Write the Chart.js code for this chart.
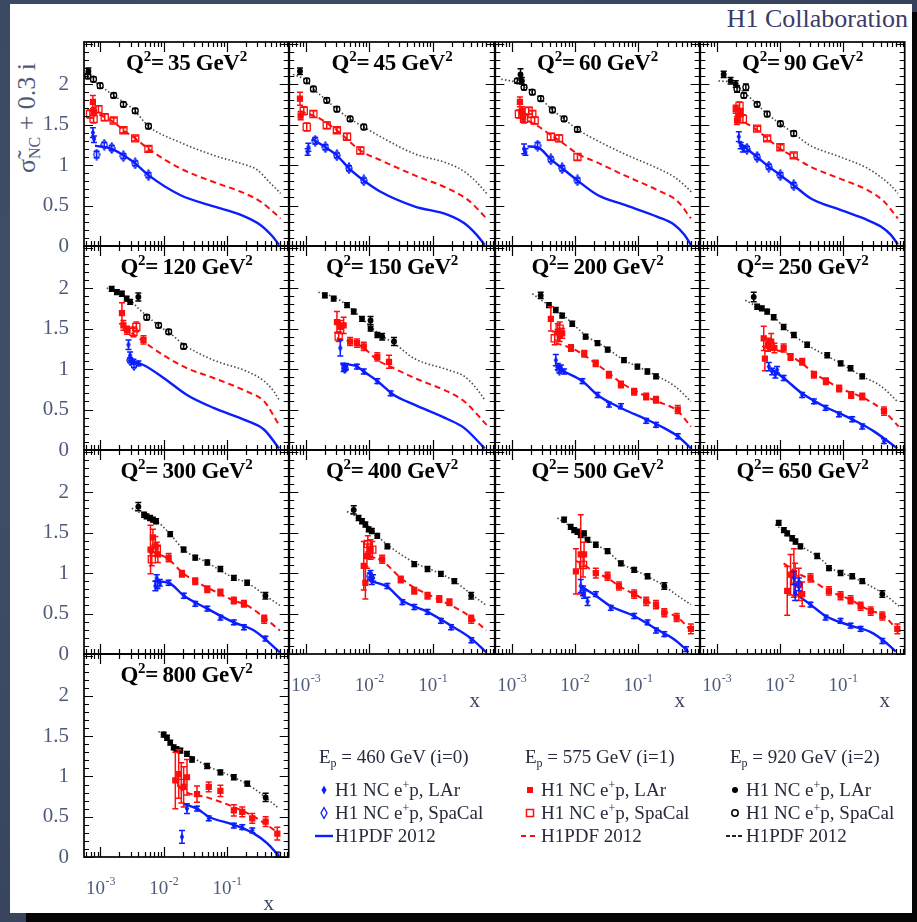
<!DOCTYPE html>
<html>
<head>
<meta charset="utf-8">
<script src="https://cdn.jsdelivr.net/npm/chart.js@4.4.1/dist/chart.umd.min.js"></script>
<style>
body{margin:0;width:917px;height:922px;overflow:hidden;position:relative;
  background:radial-gradient(circle at 30% 40%,#46546f 0%,#3a4761 60%,#333f58 100%);
  font-family:"Liberation Serif","DejaVu Serif",serif;}
#shadow{position:absolute;left:26px;top:12px;width:891px;height:910px;background:#050505;}
#sheet{position:absolute;left:10px;top:4px;width:902px;height:909px;background:#fff;}
canvas{position:absolute;}
.title{position:absolute;font-weight:bold;font-size:23px;line-height:23px;color:#000;white-space:nowrap;transform:translateX(-50%);letter-spacing:-0.3px;}
.title sup{font-size:15px;line-height:0;vertical-align:9px;}
#ytitle{position:absolute;left:27px;top:118px;transform:translate(-50%,-50%) rotate(-90deg);font-size:26px;color:#4f5a7a;white-space:nowrap;}
#ytitle sub{font-size:16px;line-height:0;vertical-align:-5px;}
#collab{position:absolute;right:9px;top:6px;font-size:26px;line-height:26px;color:#3a3b68;white-space:nowrap;}
.leg{position:absolute;font-size:19px;line-height:19px;color:#262b3c;white-space:nowrap;}
.leg sup{font-size:12px;line-height:0;vertical-align:7px;}
.leg sub{font-size:12px;line-height:0;vertical-align:-4px;}
.legmk{position:absolute;}
</style>
</head>
<body>
<div id="shadow"></div>
<div id="sheet"></div>
<div id="collab">H1 Collaboration</div>
<div id="ytitle">σ̃<sub>NC</sub> + 0.3 i</div>
<script>
// Q2 bins, one panel each
const q2List = [35, 45, 60, 90, 120, 150, 200, 250, 300, 400, 500, 650, 800];
const xTickValues = [0.001, 0.01, 0.1];
const xTickExp = ['-3', '-2', '-1'];
const yTickValues = [0, 0.5, 1, 1.5, 2];
const yTickLabels = ['0', '0.5', '1', '1.5', '2'];

// H1PDF 2012 curves [x, sigma + 0.3 i]
const pdf460 = [
  [[8.2e-4,1.24],[1.51e-3,1.20],[2.31e-3,1.12],[3.55e-3,1.02],[5.75e-3,0.875],[0.0182,0.63],[0.0617,0.49],[0.166,0.385],[0.339,0.26],[0.525,0.12],[0.668,0.015]],
  [[1.245e-3,1.325],[2.04e-3,1.22],[3.09e-3,1.12],[4.79e-3,0.96],[8.2e-3,0.81],[0.0151,0.67],[0.0513,0.49],[0.174,0.385],[0.316,0.28],[0.49,0.14],[0.66,0.015]],
  [[1.78e-3,1.23],[2.57e-3,1.22],[4.17e-3,1.07],[6.3e-3,0.96],[0.011,0.81],[0.0229,0.63],[0.060,0.51],[0.204,0.36],[0.38,0.26],[0.543,0.14],[0.69,0.015]],
  [[2.24e-3,1.28],[3.02e-3,1.20],[4.37e-3,1.10],[6.68e-3,0.98],[0.0102,0.875],[0.0166,0.75],[0.0305,0.59],[0.091,0.445],[0.245,0.32],[0.398,0.24],[0.569,0.14],[0.741,0.02]],
  [[2.75e-3,1.11],[4.79e-3,1.05],[0.01,0.89],[0.0234,0.68],[0.0617,0.52],[0.209,0.36],[0.389,0.25],[0.668,0.02]],
  [[3.5e-3,1.07],[6.46e-3,1.03],[8.2e-3,0.97],[0.0135,0.85],[0.0245,0.68],[0.0513,0.56],[0.174,0.38],[0.316,0.27],[0.66,0.02]],
  [[5.0e-3,1.03],[6.76e-3,0.97],[0.0132,0.85],[0.0229,0.68],[0.0372,0.58],[0.060,0.50],[0.135,0.38],[0.261,0.27],[0.427,0.17],[0.69,0.02]],
  [[7.08e-3,1.01],[0.0115,0.89],[0.0224,0.70],[0.050,0.54],[0.140,0.38],[0.31,0.23],[0.724,0.02]],
  [[6.9e-3,0.90],[0.012,0.88],[0.0209,0.72],[0.049,0.56],[0.129,0.39],[0.269,0.29],[0.69,0.02]],
  [[0.0105,0.90],[0.0193,0.83],[0.0333,0.66],[0.083,0.52],[0.195,0.35],[0.407,0.19],[0.70,0.02]],
  [[0.0124,0.84],[0.0215,0.72],[0.0372,0.59],[0.087,0.47],[0.193,0.31],[0.377,0.18],[0.61,0.04]],
  [[0.0167,0.76],[0.0306,0.61],[0.053,0.47],[0.132,0.35],[0.275,0.27],[0.447,0.16],[0.685,0.03]],
  [[0.0207,0.66],[0.0337,0.60],[0.0517,0.50],[0.129,0.40],[0.268,0.29],[0.436,0.17],[0.668,0.01]]
];
const pdf575 = [
  [[6.84e-4,1.67],[9.9e-4,1.62],[1.62e-3,1.53],[2.31e-3,1.43],[3.55e-3,1.33],[5.75e-3,1.20],[0.0182,0.96],[0.0617,0.79],[0.166,0.67],[0.339,0.55],[0.708,0.34]],
  [[8.1e-4,1.67],[1.70e-3,1.57],[3.09e-3,1.43],[7.24e-3,1.18],[0.0151,1.06],[0.0513,0.875],[0.174,0.71],[0.359,0.57],[0.708,0.34]],
  [[1.30e-3,1.59],[2.26e-3,1.51],[4.17e-3,1.37],[6.76e-3,1.26],[0.011,1.14],[0.0229,1.03],[0.060,0.875],[0.204,0.69],[0.427,0.55],[0.69,0.34]],
  [[2.0e-3,1.57],[3.02e-3,1.51],[4.37e-3,1.43],[6.3e-3,1.33],[0.0102,1.20],[0.0166,1.10],[0.0305,0.98],[0.091,0.83],[0.245,0.69],[0.447,0.55],[0.741,0.34]],
  [[2.31e-3,1.52],[4.79e-3,1.34],[0.01,1.17],[0.0234,1.01],[0.0617,0.89],[0.209,0.72],[0.389,0.60],[0.668,0.31]],
  [[3.09e-3,1.38],[5.0e-3,1.34],[8.2e-3,1.26],[0.0135,1.11],[0.0245,1.01],[0.0513,0.89],[0.174,0.72],[0.316,0.60],[0.708,0.31]],
  [[5.0e-3,1.32],[8.7e-3,1.26],[0.0141,1.17],[0.0214,1.07],[0.0347,0.95],[0.0537,0.83],[0.087,0.74],[0.135,0.66],[0.204,0.60],[0.427,0.48],[0.69,0.29]],
  [[6.3e-3,1.24],[0.0115,1.21],[0.0224,1.07],[0.0347,0.95],[0.0562,0.85],[0.091,0.76],[0.204,0.65],[0.447,0.48],[0.76,0.29]],
  [[6.5e-3,1.27],[0.012,1.17],[0.0195,1.01],[0.0316,0.90],[0.049,0.82],[0.079,0.74],[0.129,0.66],[0.209,0.60],[0.389,0.45],[0.69,0.29]],
  [[9.86e-3,1.21],[0.016,1.15],[0.0314,0.94],[0.0513,0.82],[0.083,0.74],[0.135,0.66],[0.219,0.58],[0.407,0.45],[0.70,0.29]],
  [[0.0104,1.15],[0.014,1.10],[0.0215,1.00],[0.033,0.94],[0.05,0.84],[0.087,0.74],[0.142,0.65],[0.261,0.53],[0.426,0.45],[0.735,0.27]],
  [[0.0115,1.12],[0.0212,0.98],[0.0306,0.92],[0.0598,0.78],[0.132,0.67],[0.245,0.55],[0.447,0.47],[0.773,0.27]],
  [[0.0173,0.87],[0.0234,0.80],[0.0487,0.74],[0.129,0.62],[0.268,0.50],[0.628,0.31]]
];
const pdf920 = [
  [[5.5e-4,2.12],[9.9e-4,1.98],[1.62e-3,1.86],[3.31e-3,1.69],[5.75e-3,1.48],[0.0182,1.28],[0.0617,1.12],[0.166,1.02],[0.302,0.94],[0.468,0.79],[0.708,0.65]],
  [[6.3e-4,2.12],[1.035e-3,2.04],[1.32e-3,1.94],[2.14e-3,1.80],[3.09e-3,1.69],[5.0e-3,1.57],[8.2e-3,1.47],[0.0151,1.35],[0.0513,1.14],[0.174,1.02],[0.316,0.92],[0.49,0.79],[0.708,0.65]],
  [[6.84e-4,2.06],[1.23e-3,2.02],[1.57e-3,1.98],[2.12e-3,1.90],[2.88e-3,1.82],[4.42e-3,1.68],[6.76e-3,1.57],[0.011,1.44],[0.0229,1.30],[0.060,1.14],[0.204,0.96],[0.38,0.85],[0.543,0.75],[0.741,0.65]],
  [[1.07e-3,2.04],[1.66e-3,2.02],[2.69e-3,1.90],[4.37e-3,1.75],[6.3e-3,1.63],[0.0102,1.51],[0.0166,1.39],[0.0305,1.24],[0.091,1.10],[0.245,0.96],[0.398,0.85],[0.569,0.75],[0.741,0.65]],
  [[1.26e-3,2.00],[1.62e-3,1.97],[2.63e-3,1.89],[3.98e-3,1.75],[5.37e-3,1.66],[8.9e-3,1.52],[0.0127,1.44],[0.0209,1.30],[0.0617,1.11],[0.209,0.97],[0.389,0.85],[0.556,0.72],[0.668,0.62]],
  [[1.58e-3,1.95],[2.75e-3,1.89],[4.47e-3,1.79],[8.2e-3,1.60],[0.0151,1.42],[0.0245,1.32],[0.0513,1.13],[0.174,0.99],[0.316,0.91],[0.49,0.76],[0.66,0.62]],
  [[2.12e-3,1.93],[4.17e-3,1.77],[6.03e-3,1.69],[9.8e-3,1.54],[0.0158,1.40],[0.0292,1.28],[0.060,1.11],[0.112,1.01],[0.204,0.91],[0.38,0.79],[0.69,0.60]],
  [[2.84e-3,1.85],[4.37e-3,1.77],[8.2e-3,1.64],[0.0115,1.52],[0.0271,1.30],[0.092,1.07],[0.202,0.91],[0.398,0.79],[0.727,0.60]],
  [[3.14e-3,1.80],[5.4e-3,1.70],[7.8e-3,1.64],[0.0127,1.48],[0.0207,1.29],[0.0487,1.13],[0.129,0.94],[0.21,0.88],[0.41,0.72],[0.69,0.60]],
  [[4.47e-3,1.76],[8.2e-3,1.64],[0.0134,1.46],[0.0193,1.35],[0.0513,1.13],[0.135,0.99],[0.22,0.90],[0.405,0.74],[0.70,0.60]],
  [[5.3e-3,1.68],[8.6e-3,1.57],[0.0159,1.41],[0.0215,1.35],[0.033,1.27],[0.0537,1.12],[0.087,1.04],[0.142,0.96],[0.261,0.84],[0.426,0.72],[0.69,0.61]],
  [[8.5e-3,1.60],[0.0157,1.43],[0.0212,1.34],[0.039,1.21],[0.0718,1.04],[0.132,0.96],[0.243,0.86],[0.447,0.74],[0.773,0.59]],
  [[8.3e-3,1.56],[0.0144,1.38],[0.0234,1.28],[0.0487,1.13],[0.129,0.99],[0.268,0.85],[0.628,0.62]]
];

// measurements [x, sigma + 0.3 i, error]
const lar460 = [
  [[7.6e-4,1.40,0.06],[7.9e-4,1.32,0.04]],
  [[1.10e-3,1.22,0.05],[1.07e-3,1.16,0.04]],
  [[1.57e-3,1.20,0.06],[1.65e-3,1.16,0.04]],
  [[2.24e-3,1.35,0.06],[2.4e-3,1.24,0.04],[2.6e-3,1.20,0.04]],
  [[2.78e-3,1.30,0.06],[2.95e-3,1.17,0.04],[3.33e-3,1.09,0.03],[4.0e-3,1.07,0.03]],
  [[3.5e-3,1.26,0.1],[3.95e-3,1.01,0.04],[4.3e-3,1.03,0.04],[6.4e-3,1.03,0.03],[8.2e-3,0.97,0.03],[0.0134,0.85,0.03],[0.0218,0.70,0.03]],
  [[5.0e-3,1.11,0.07],[5.37e-3,1.03,0.04],[6.03e-3,1.01,0.04],[6.76e-3,0.97,0.03],[0.0132,0.85,0.03],[0.0229,0.68,0.03],[0.0347,0.56,0.03],[0.0537,0.54,0.03],[0.135,0.36,0.03],[0.193,0.31,0.03],[0.427,0.17,0.03]],
  [[6.68e-3,1.03,0.05],[7.55e-3,0.97,0.04],[8.5e-3,0.93,0.04],[9.05e-3,0.99,0.04],[0.0115,0.89,0.03],[0.0226,0.68,0.03],[0.0347,0.60,0.03],[0.053,0.52,0.03],[0.0863,0.44,0.03],[0.140,0.38,0.03],[0.202,0.29,0.03],[0.447,0.11,0.03]],
  [[7.76e-3,0.94,0.04],[7.4e-3,0.84,0.06],[8.7e-3,0.88,0.04],[0.012,0.88,0.03],[0.0209,0.72,0.03],[0.0316,0.62,0.03],[0.049,0.56,0.03],[0.079,0.45,0.03],[0.129,0.39,0.03],[0.186,0.33,0.03],[0.407,0.19,0.03]],
  [[0.0105,0.99,0.04],[0.0115,0.94,0.04],[0.011,0.90,0.04],[0.0193,0.84,0.03],[0.0333,0.64,0.03],[0.0513,0.58,0.03],[0.083,0.52,0.03],[0.135,0.41,0.03],[0.195,0.33,0.03],[0.407,0.17,0.03]],
  [[0.0124,0.84,0.08],[0.014,0.74,0.05],[0.0159,0.65,0.05],[0.0215,0.74,0.03],[0.0372,0.57,0.03],[0.087,0.47,0.03],[0.142,0.39,0.03],[0.193,0.29,0.03],[0.261,0.245,0.03],[0.577,0.06,0.03]],
  [[0.0167,0.94,0.08],[0.0175,0.76,0.1],[0.0306,0.61,0.03],[0.053,0.45,0.03],[0.0916,0.41,0.03],[0.132,0.35,0.03],[0.19,0.31,0.03],[0.42,0.16,0.03]],
  [[0.0195,0.25,0.08],[0.0234,0.60,0.06],[0.0337,0.60,0.03],[0.0517,0.48,0.03],[0.129,0.39,0.03],[0.175,0.37,0.03],[0.252,0.33,0.03],[0.628,0.03,0.03]]
];
const spa460 = [
  [[8.7e-4,1.13,0.04],[1.15e-3,1.25,0.03],[1.51e-3,1.21,0.03],[2.31e-3,1.11,0.03],[3.55e-3,1.02,0.03],[5.75e-3,0.875,0.03]],
  [[1.41e-3,1.30,0.04],[2.04e-3,1.22,0.03],[3.09e-3,1.12,0.03],[4.79e-3,0.96,0.03],[8.2e-3,0.81,0.03]],
  [[2.57e-3,1.24,0.04],[4.17e-3,1.07,0.03],[6.3e-3,0.96,0.03],[0.011,0.81,0.03]],
  [[3.02e-3,1.20,0.03],[4.37e-3,1.10,0.03],[6.68e-3,0.98,0.03],[0.0102,0.875,0.03],[0.0166,0.75,0.03]],
  [[2.95e-3,1.11,0.03],[3.4e-3,1.05,0.03]],
  [[4.1e-3,1.01,0.03]],
  [[5.7e-3,0.99,0.04]],
  [],
  [[8.0e-3,0.86,0.05]],
  [[0.0102,0.96,0.04]],
  [[0.0135,0.78,0.06]],
  [[0.02,0.86,0.08]],
  []
];
const lar575 = [
  [[7.6e-4,1.78,0.08],[7.9e-4,1.66,0.05]],
  [[8.1e-4,1.82,0.08],[8.3e-4,1.61,0.05]],
  [[1.35e-3,1.78,0.06],[1.45e-3,1.67,0.05],[1.52e-3,1.59,0.05]],
  [[2.0e-3,1.69,0.05],[2.2e-3,1.61,0.05],[2.4e-3,1.65,0.05],[2.1e-3,1.55,0.05]],
  [[2.19e-3,1.69,0.13],[2.31e-3,1.54,0.06],[2.63e-3,1.48,0.05],[4.8e-3,1.36,0.05]],
  [[3.1e-3,1.58,0.13],[3.5e-3,1.52,0.08],[3.95e-3,1.54,0.1],[5.0e-3,1.34,0.05],[6.4e-3,1.32,0.05],[8.2e-3,1.28,0.05],[0.0134,1.15,0.05],[0.0205,1.09,0.08]],
  [[4.17e-3,1.62,0.15],[5.37e-3,1.46,0.10],[5.75e-3,1.42,0.08],[6.3e-3,1.44,0.06],[8.7e-3,1.26,0.04],[0.0141,1.19,0.04],[0.0214,1.07,0.04],[0.0347,0.93,0.04],[0.0537,0.81,0.04],[0.087,0.72,0.04],[0.135,0.66,0.04],[0.193,0.62,0.04],[0.427,0.50,0.05]],
  [[5.56e-3,1.38,0.15],[5.8e-3,1.13,0.15],[6.5e-3,1.30,0.08],[7.3e-3,1.34,0.10],[8.2e-3,1.26,0.06],[0.0115,1.26,0.05],[0.0148,1.15,0.04],[0.0226,1.09,0.04],[0.0347,0.93,0.04],[0.0537,0.85,0.04],[0.087,0.76,0.04],[0.135,0.68,0.04],[0.202,0.66,0.04],[0.447,0.48,0.05]],
  [[6.2e-3,1.29,0.3],[6.76e-3,1.44,0.1],[7.4e-3,1.33,0.12],[8.1e-3,1.23,0.1],[0.012,1.19,0.05],[0.0195,0.99,0.04],[0.0316,0.90,0.04],[0.049,0.80,0.04],[0.079,0.76,0.04],[0.129,0.66,0.04],[0.186,0.62,0.04],[0.389,0.43,0.05]],
  [[8.2e-3,1.09,0.3],[8.7e-3,0.88,0.2],[9.2e-3,1.21,0.15],[0.0105,1.29,0.12],[0.016,1.17,0.05],[0.0314,0.92,0.04],[0.0513,0.78,0.04],[0.083,0.72,0.04],[0.127,0.68,0.04],[0.184,0.64,0.04],[0.405,0.43,0.05]],
  [[0.0104,1.02,0.28],[0.0124,1.23,0.49],[0.014,1.23,0.15],[0.0215,1.00,0.06],[0.033,0.96,0.05],[0.05,0.84,0.05],[0.087,0.74,0.05],[0.135,0.65,0.05],[0.193,0.61,0.05],[0.261,0.51,0.05],[0.41,0.45,0.05],[0.69,0.31,0.06]],
  [[0.0131,0.78,0.3],[0.0148,0.98,0.25],[0.0167,1.00,0.3],[0.02,0.86,0.2],[0.0226,0.74,0.15],[0.0306,0.94,0.05],[0.0598,0.78,0.05],[0.0916,0.72,0.05],[0.132,0.67,0.05],[0.19,0.59,0.05],[0.275,0.53,0.05],[0.42,0.47,0.05],[0.727,0.31,0.06]],
  [[0.0153,0.95,0.35],[0.0173,1.03,0.3],[0.0207,0.87,0.25],[0.0234,0.99,0.22],[0.0337,0.78,0.1],[0.0517,0.87,0.06],[0.079,0.82,0.07],[0.129,0.58,0.07],[0.175,0.56,0.06],[0.252,0.48,0.06],[0.41,0.44,0.06],[0.628,0.29,0.08]]
];
const spa575 = [
  [[6.84e-4,1.63,0.05],[7.8e-4,1.57,0.05],[9.3e-4,1.69,0.04],[1.17e-3,1.59,0.04],[1.62e-3,1.55,0.03],[2.31e-3,1.43,0.03],[3.55e-3,1.33,0.03],[5.75e-3,1.20,0.03]],
  [[9.3e-4,1.67,0.05],[1.035e-3,1.47,0.05],[1.32e-3,1.63,0.04],[2.14e-3,1.49,0.04],[3.09e-3,1.43,0.03],[4.47e-3,1.35,0.04],[7.24e-3,1.18,0.04]],
  [[1.30e-3,1.63,0.05],[1.57e-3,1.57,0.05],[1.86e-3,1.67,0.04],[2.12e-3,1.63,0.04],[2.31e-3,1.55,0.04],[4.17e-3,1.35,0.04],[5.62e-3,1.33,0.04],[0.011,1.10,0.04]],
  [[2.3e-3,1.73,0.05],[2.6e-3,1.57,0.05],[4.37e-3,1.45,0.03],[6.3e-3,1.33,0.03],[0.0102,1.22,0.03],[0.0166,1.12,0.03]],
  [[3.33e-3,1.46,0.06],[3.7e-3,1.52,0.06]],
  [[3.3e-3,1.40,0.06]],
  [[4.8e-3,1.38,0.08],[5.75e-3,1.50,0.08]],
  [[7.0e-3,1.30,0.06]],
  [[6.5e-3,1.17,0.08],[7.8e-3,1.30,0.08]],
  [[9.5e-3,1.36,0.1],[0.0112,1.29,0.1]],
  [[0.0135,1.10,0.15]],
  [[0.0175,0.92,0.2]],
  [[0.019,0.92,0.25]]
];
const lar920 = [
  [[6.46e-4,2.16,0.04]],
  [[8.1e-4,2.16,0.04]],
  [[1.38e-3,2.12,0.07],[1.45e-3,2.04,0.04]],
  [[1.29e-3,2.12,0.04],[1.66e-3,2.04,0.04],[2.0e-3,2.00,0.04]],
  [[1.51e-3,1.99,0.03],[1.82e-3,1.95,0.03],[2.19e-3,1.93,0.03],[2.6e-3,1.87,0.03],[2.95e-3,1.83,0.03],[3.98e-3,1.89,0.05]],
  [[2.0e-3,1.91,0.03],[2.75e-3,1.87,0.03],[4.47e-3,1.79,0.03],[5.7e-3,1.71,0.03],[7.7e-3,1.62,0.03],[0.0105,1.50,0.03],[0.0134,1.42,0.03],[0.0105,1.60,0.05],[0.016,1.40,0.04],[0.0246,1.34,0.05]],
  [[2.88e-3,1.91,0.04],[3.89e-3,1.79,0.03],[5.0e-3,1.73,0.03],[6.3e-3,1.66,0.03],[9.1e-3,1.56,0.03],[0.0148,1.40,0.03],[0.0229,1.32,0.03],[0.0331,1.24,0.03],[0.060,1.11,0.03],[0.098,1.03,0.03],[0.141,0.97,0.03],[0.193,0.91,0.03]],
  [[3.86e-3,1.89,0.06],[4.37e-3,1.77,0.03],[5.2e-3,1.75,0.03],[6.3e-3,1.71,0.03],[8.0e-3,1.64,0.03],[0.0115,1.52,0.03],[0.0167,1.42,0.03],[0.0271,1.30,0.03],[0.0564,1.17,0.03],[0.092,1.07,0.03],[0.132,1.01,0.03],[0.202,0.91,0.03]],
  [[3.98e-3,1.82,0.05],[4.9e-3,1.72,0.03],[5.37e-3,1.70,0.03],[6.1e-3,1.68,0.03],[6.76e-3,1.66,0.03],[7.6e-3,1.64,0.03],[0.0127,1.48,0.03],[0.0207,1.29,0.03],[0.0316,1.19,0.03],[0.049,1.13,0.03],[0.079,1.05,0.03],[0.129,0.94,0.03],[0.209,0.88,0.03],[0.407,0.72,0.04]],
  [[5.7e-3,1.78,0.05],[6.8e-3,1.68,0.03],[7.7e-3,1.64,0.03],[8.7e-3,1.60,0.03],[9.8e-3,1.54,0.03],[0.011,1.52,0.03],[0.0134,1.46,0.03],[0.0193,1.33,0.03],[0.0513,1.11,0.03],[0.083,1.05,0.03],[0.135,0.99,0.03],[0.22,0.90,0.03],[0.405,0.72,0.04]],
  [[6.76e-3,1.66,0.03],[8.6e-3,1.57,0.03],[9.75e-3,1.53,0.03],[0.011,1.51,0.03],[0.0124,1.47,0.03],[0.014,1.49,0.03],[0.0159,1.41,0.03],[0.0215,1.35,0.03],[0.033,1.27,0.03],[0.0537,1.12,0.03],[0.087,1.04,0.03],[0.142,0.96,0.03],[0.261,0.84,0.04]],
  [[9.6e-3,1.62,0.03],[0.0116,1.53,0.03],[0.0131,1.49,0.03],[0.0157,1.43,0.03],[0.0177,1.39,0.03],[0.0212,1.33,0.03],[0.039,1.21,0.03],[0.06,1.06,0.03],[0.0916,1.00,0.03],[0.14,0.96,0.03],[0.202,0.90,0.03],[0.42,0.74,0.04]],
  [[0.01,1.52,0.03],[0.0113,1.48,0.03],[0.0127,1.42,0.03],[0.0144,1.36,0.03],[0.016,1.34,0.03],[0.0184,1.32,0.03],[0.0234,1.28,0.03],[0.0281,1.21,0.03],[0.0487,1.13,0.03],[0.079,1.05,0.03],[0.129,0.99,0.03],[0.21,0.91,0.03],[0.41,0.74,0.05]]
];
const spa920 = [
  [[6.3e-4,2.10,0.03],[7.76e-4,2.06,0.03],[9.9e-4,1.98,0.03],[1.62e-3,1.86,0.03],[2.31e-3,1.75,0.03],[3.55e-3,1.67,0.03],[5.75e-3,1.48,0.03]],
  [[1.035e-3,2.04,0.03],[1.32e-3,1.94,0.03],[2.14e-3,1.80,0.03],[3.09e-3,1.69,0.03],[5.0e-3,1.57,0.03],[8.2e-3,1.47,0.03]],
  [[1.23e-3,2.04,0.03],[1.57e-3,1.96,0.03],[2.12e-3,1.90,0.03],[2.88e-3,1.82,0.03],[4.42e-3,1.68,0.03],[6.76e-3,1.57,0.03],[0.011,1.44,0.03]],
  [[2.1e-3,1.94,0.04],[2.69e-3,1.86,0.03],[2.9e-3,1.96,0.04],[4.37e-3,1.75,0.03],[6.3e-3,1.63,0.03],[0.0102,1.51,0.03],[0.0166,1.39,0.03]],
  [[5.4e-3,1.64,0.03],[8.3e-3,1.54,0.03],[0.012,1.46,0.03],[0.0207,1.28,0.03]],
  [], [], [], [], [], [], [], []
];

const BLUE = '#0a1eff', RED = '#ff0d0d';
const colLeft = [84, 289, 495, 700];
const colWidth = [205, 206, 205, 205];
const rowTop = [42, 246, 450, 654];
const rowHeight = [204, 204, 204, 203];
const SERIF = "'Liberation Serif', 'DejaVu Serif', serif";

function diamond(w, h, color, open) {
  const c = document.createElement('canvas');
  c.width = w; c.height = h;
  const g = c.getContext('2d');
  g.beginPath();
  g.moveTo(w / 2, 0.8); g.lineTo(w - 0.8, h / 2); g.lineTo(w / 2, h - 0.8); g.lineTo(0.8, h / 2);
  g.closePath();
  if (open) { g.strokeStyle = color; g.lineWidth = 1.3; g.stroke(); }
  else { g.fillStyle = color; g.fill(); }
  return c;
}

const pdfStyle = [
  {color: BLUE, width: 2.4, dash: []},
  {color: RED, width: 2, dash: [6, 4]},
  {color: '#4a4a4a', width: 1.6, dash: [1.5, 2.2]}
];
const larStyle = [
  {style: diamond(6, 9, BLUE, false), r: 4, fill: BLUE, line: BLUE},
  {style: 'rect', r: 3.5, fill: RED, line: RED},
  {style: 'circle', r: 2.3, fill: '#000', line: '#000'}
];
const spaStyle = [
  {style: diamond(8, 12, BLUE, true), r: 5, fill: 'rgba(0,0,0,0)', line: BLUE},
  {style: 'rect', r: 5, fill: 'rgba(0,0,0,0)', line: RED},
  {style: 'circle', r: 3, fill: 'rgba(0,0,0,0)', line: '#000'}
];

function larSets(i) { return [lar460, lar575, lar920][i]; }
function spaSets(i) { return [spa460, spa575, spa920][i]; }
function pdfSets(i) { return [pdf460, pdf575, pdf920][i]; }

const errorBars = {
  id: 'errorBars',
  beforeDatasetDraw(chart, args) {
    const ds = chart.data.datasets[args.index];
    if (!ds.errs) return;
    const ctx = chart.ctx, ys = chart.scales.y;
    ctx.save();
    ctx.strokeStyle = ds.pointBorderColor;
    ctx.lineWidth = 1.5;
    args.meta.data.forEach((pt, i) => {
      const e = ds.errs[i], v = ds.data[i].y;
      const y1 = ys.getPixelForValue(v + e), y2 = ys.getPixelForValue(v - e);
      ctx.beginPath();
      ctx.moveTo(pt.x, y1); ctx.lineTo(pt.x, y2);
      ctx.moveTo(pt.x - 3, y1); ctx.lineTo(pt.x + 3, y1);
      ctx.moveTo(pt.x - 3, y2); ctx.lineTo(pt.x + 3, y2);
      ctx.stroke();
    });
    ctx.restore();
  }
};

const frame = {
  id: 'frame',
  afterDraw(chart, args, opts) {
    const {ctx, chartArea: a} = chart;
    const xs = chart.scales.x, ys = chart.scales.y;
    ctx.save();
    ctx.strokeStyle = '#000';
    ctx.lineWidth = 1.2;
    ctx.beginPath();
    for (let k = 0; k <= 25; k++) {
      const py = Math.round(ys.getPixelForValue(k / 10)) + 0.5;
      const len = k % 5 === 0 ? 9 : 5;
      ctx.moveTo(a.left, py); ctx.lineTo(a.left + len, py);
      ctx.moveTo(a.right, py); ctx.lineTo(a.right - len, py);
    }
    for (let d = -4; d <= 0; d++) {
      for (let m = 1; m <= 9; m++) {
        const v = m * Math.pow(10, d);
        if (v < xs.min || v > xs.max) continue;
        const px = Math.round(xs.getPixelForValue(v)) + 0.5;
        const len = m === 1 ? 10 : 5;
        ctx.moveTo(px, a.bottom); ctx.lineTo(px, a.bottom - len);
        ctx.moveTo(px, a.top); ctx.lineTo(px, a.top + len);
      }
    }
    ctx.stroke();
    ctx.lineWidth = 1.7;
    ctx.strokeRect(a.left, a.top, a.right - a.left, a.bottom - a.top);
    if (opts.xLabels) {
      ctx.fillStyle = '#4f5a7a';
      ctx.textBaseline = 'alphabetic';
      xTickValues.forEach((v, i) => {
        const px = xs.getPixelForValue(v);
        ctx.font = '19px ' + SERIF;
        const w1 = ctx.measureText('10').width;
        ctx.font = '12px ' + SERIF;
        const w2 = ctx.measureText(xTickExp[i]).width;
        const x0 = px - (w1 + w2) / 2;
        ctx.font = '19px ' + SERIF;
        ctx.fillText('10', x0, a.bottom + 37);
        ctx.font = '12px ' + SERIF;
        ctx.fillText(xTickExp[i], x0 + w1 + 0.5, a.bottom + 28);
      });
      ctx.font = '21px ' + SERIF;
      ctx.fillStyle = '#3d4560';
      ctx.textAlign = 'center';
      ctx.fillText('x', a.right - 20, a.bottom + 53);
    }
    ctx.restore();
  }
};

q2List.forEach((q2, p) => {
  const row = Math.floor(p / 4), col = p % 4;
  const L = colLeft[col], W = colWidth[col], T = rowTop[row], H = rowHeight[row];
  const hasY = col === 0, hasX = p >= 9;
  const padL = hasY ? 70 : 6, padR = 6, padT = 14, padB = hasX ? 64 : 14;
  const cv = document.createElement('canvas');
  cv.width = padL + W + padR; cv.height = padT + H + padB;
  cv.style.left = (L - padL) + 'px'; cv.style.top = (T - padT) + 'px';
  cv.style.width = cv.width + 'px'; cv.style.height = cv.height + 'px';
  document.body.appendChild(cv);

  const datasets = [];
  [0, 1, 2].forEach(i => {
    const pts = [larSets(i)[p], spaSets(i)[p]];
    [larStyle[i], spaStyle[i]].forEach((st, k) => {
      datasets.push({
        data: pts[k].map(d => ({x: d[0], y: d[1]})),
        errs: pts[k].map(d => d[2]),
        showLine: false,
        pointStyle: st.style, pointRadius: st.r,
        pointBackgroundColor: st.fill, pointBorderColor: st.line, pointBorderWidth: 1.3,
        order: 1
      });
    });
    datasets.push({
      data: pdfSets(i)[p].map(d => ({x: d[0], y: d[1]})),
      borderColor: pdfStyle[i].color, borderWidth: pdfStyle[i].width, borderDash: pdfStyle[i].dash,
      pointRadius: 0, fill: false, cubicInterpolationMode: 'monotone', order: 3
    });
  });

  new Chart(cv, {
    type: 'line',
    data: {datasets},
    options: {
      responsive: false, animation: false, events: [],
      layout: {padding: {top: padT, right: padR, left: 0, bottom: 0}},
      plugins: {legend: {display: false}, tooltip: {enabled: false}, frame: {xLabels: hasX}},
      scales: {
        x: {type: 'logarithmic', min: 5.5e-4, max: 0.95,
            grid: {display: false}, border: {display: false}, ticks: {display: false},
            afterFit: s => { s.height = padB; s.paddingLeft = 0; s.paddingRight = 0; }},
        y: {type: 'linear', min: 0, max: 2.52,
            grid: {display: false}, border: {display: false},
            afterBuildTicks: s => { s.ticks = yTickValues.map(v => ({value: v})); },
            ticks: {display: hasY, padding: 7, color: '#4f5a7a',
                    font: {family: SERIF, size: 21}, callback: (v, i) => yTickLabels[i]},
            afterFit: s => { s.width = padL; s.paddingTop = 0; s.paddingBottom = 0; }}
      }
    },
    plugins: [errorBars, frame]
  });

  const t = document.createElement('div');
  t.className = 'title';
  t.innerHTML = 'Q<sup>2</sup>=&thinsp;' + q2 + ' GeV<sup>2</sup>';
  t.style.left = (L + W / 2) + 'px';
  t.style.top = (T + 9) + 'px';
  document.body.appendChild(t);
});

// legend below the grid
const legendHeads = ['E<sub>p</sub> = 460 GeV (i=0)', 'E<sub>p</sub> = 575 GeV (i=1)', 'E<sub>p</sub> = 920 GeV (i=2)'];
const legendRows = ['H1 NC e<sup>+</sup>p, LAr', 'H1 NC e<sup>+</sup>p, SpaCal', 'H1PDF 2012'];
const legendMarks = [
  ['<polygon points="5,2.5 7.5,7 5,11.5 2.5,7" fill="' + BLUE + '"/>',
   '<polygon points="5,1.5 8,7 5,12.5 2,7" fill="none" stroke="' + BLUE + '" stroke-width="1.3"/>',
   '<line x1="-4" y1="7" x2="14" y2="7" stroke="' + BLUE + '" stroke-width="2.4"/>'],
  ['<rect x="2" y="4" width="6" height="6" fill="' + RED + '"/>',
   '<rect x="1.5" y="3.5" width="7" height="7" fill="none" stroke="' + RED + '" stroke-width="1.5"/>',
   '<line x1="-4" y1="7" x2="14" y2="7" stroke="' + RED + '" stroke-width="2" stroke-dasharray="5,4"/>'],
  ['<circle cx="5" cy="7" r="3" fill="#000"/>',
   '<circle cx="5" cy="7" r="3.2" fill="none" stroke="#000" stroke-width="1.5"/>',
   '<line x1="-4" y1="7" x2="14" y2="7" stroke="#222" stroke-width="1.8" stroke-dasharray="4,2"/>']
];
const legendRowY = [790, 813, 836];
[1, 2, 3].forEach((c, j) => {
  const L = colLeft[c];
  const h = document.createElement('div');
  h.className = 'leg';
  h.innerHTML = legendHeads[j];
  h.style.left = (L + 30) + 'px'; h.style.top = (757 - 10) + 'px';
  document.body.appendChild(h);
  legendRows.forEach((txt, r) => {
    const m = document.createElement('div');
    m.className = 'legmk';
    m.innerHTML = '<svg width="22" height="14" viewBox="-6 0 22 14" style="overflow:visible">' + legendMarks[j][r] + '</svg>';
    m.style.left = (L + 24) + 'px'; m.style.top = (legendRowY[r] - 7) + 'px';
    document.body.appendChild(m);
    const d = document.createElement('div');
    d.className = 'leg';
    d.innerHTML = txt;
    d.style.left = (L + 46) + 'px'; d.style.top = (legendRowY[r] - 10) + 'px';
    document.body.appendChild(d);
  });
});
</script>
</body>
</html>
